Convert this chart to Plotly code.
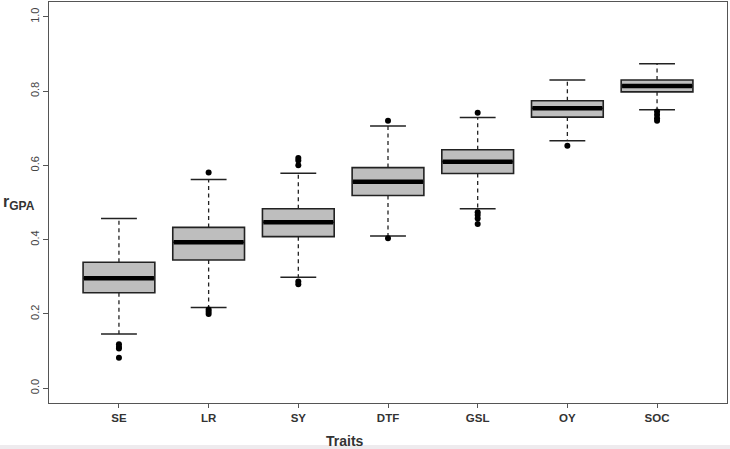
import plotly.graph_objects as go

traits = ["SE", "LR", "SY", "DTF", "GSL", "OY", "SOC"]
lower_whisker = [0.146, 0.217, 0.299, 0.410, 0.483, 0.666, 0.750]
q1 = [0.257, 0.345, 0.408, 0.519, 0.578, 0.730, 0.798]
median = [0.296, 0.393, 0.447, 0.556, 0.610, 0.754, 0.814]
q3 = [0.339, 0.433, 0.483, 0.594, 0.642, 0.774, 0.830]
upper_whisker = [0.457, 0.562, 0.579, 0.706, 0.729, 0.830, 0.874]
outliers_SE = [0.118, 0.111, 0.107, 0.082]
outliers_LR = [0.581, 0.212, 0.206, 0.200]
outliers_SY = [0.620, 0.613, 0.600, 0.287, 0.280]
outliers_DTF = [0.720, 0.404]
outliers_GSL = [0.742, 0.474, 0.466, 0.457, 0.442]
outliers_OY = [0.653]
outliers_SOC = [0.745, 0.736, 0.727, 0.720]
outliers = [outliers_SE, outliers_LR, outliers_SY, outliers_DTF,
            outliers_GSL, outliers_OY, outliers_SOC]
y_ticks = [0.0, 0.2, 0.4, 0.6, 0.8, 1.0]

pos = list(range(1, len(traits) + 1))
BOXW = 0.8
CAPW = 0.4
EDGE = "#222222"

fig = go.Figure()

# whiskers (dashed)
wx, wy = [], []
for p, lo, a, b, hi in zip(pos, lower_whisker, q1, q3, upper_whisker):
    wx += [p, p, None, p, p, None]
    wy += [b, hi, None, a, lo, None]
fig.add_trace(go.Scatter(x=wx, y=wy, mode="lines", hoverinfo="skip",
                         line=dict(color=EDGE, width=1.3, dash="4px,3.5px"),
                         showlegend=False))

# box bodies
fig.add_trace(go.Box(x=pos, q1=q1, median=median, q3=q3,
                     lowerfence=q1, upperfence=q3, width=BOXW,
                     whiskerwidth=0, boxpoints=False, hoverinfo="skip",
                     fillcolor="#BEBEBE", line=dict(color=EDGE, width=1.6),
                     showlegend=False))

# medians (thick)
mx, my = [], []
for p, m in zip(pos, median):
    mx += [p - BOXW / 2 + 0.01, p + BOXW / 2 - 0.01, None]
    my += [m, m, None]
fig.add_trace(go.Scatter(x=mx, y=my, mode="lines", hoverinfo="skip",
                         line=dict(color="black", width=4.5), showlegend=False))

# caps
cx, cy = [], []
for p, lo, hi in zip(pos, lower_whisker, upper_whisker):
    cx += [p - CAPW / 2, p + CAPW / 2, None, p - CAPW / 2, p + CAPW / 2, None]
    cy += [lo, lo, None, hi, hi, None]
fig.add_trace(go.Scatter(x=cx, y=cy, mode="lines", hoverinfo="skip",
                         line=dict(color=EDGE, width=1.5), showlegend=False))

# outliers
ox, oy = [], []
for p, vals in zip(pos, outliers):
    ox += [p] * len(vals)
    oy += vals
fig.add_trace(go.Scatter(x=ox, y=oy, mode="markers",
                         marker=dict(color="black", size=6, symbol="circle"),
                         showlegend=False))

W, H = 730, 449
ML, MR, MT, MB = 49, 3, 2, 46
pw, ph = W - ML - MR, H - MT - MB

fig.update_layout(
    width=W, height=H,
    margin=dict(l=ML, r=MR, t=MT, b=MB, pad=0, autoexpand=False),
    plot_bgcolor="white", paper_bgcolor="white",
    font=dict(family="Liberation Sans, Arial, sans-serif", color="#333333"),
    xaxis=dict(range=[0.22, 7.78], tickmode="array", tickvals=pos,
               ticktext=traits, showgrid=False, zeroline=False,
               automargin=False,
               showline=True, mirror=True, linecolor="#555555", linewidth=1,
               ticks="outside", ticklen=4, tickcolor="#555555",
               tickfont=dict(size=11.5, weight="bold", color="#333333")),
    yaxis=dict(range=[-0.04, 1.04], tickmode="array", tickvals=y_ticks,
               ticktext=[f"{v:.1f}" for v in y_ticks], tickangle=-90,
               showgrid=False, zeroline=False, automargin=False,
               showline=True, mirror=True, linecolor="#555555", linewidth=1,
               ticks="outside", ticklen=5, tickcolor="#555555",
               tickfont=dict(size=11, color="#444444")),
    annotations=[
        dict(text="<b>Traits</b>", xref="paper", yref="paper",
             x=(345 - ML) / pw, y=(H - MB - 441) / ph, xanchor="center",
             yanchor="middle", showarrow=False,
             font=dict(size=14, color="#333333")),
        dict(text="<b>r<sub><span style='font-size:12px'>GPA</span></sub></b>",
             xref="paper", yref="paper",
             x=-(ML - 1) / pw, y=(H - MB - 203) / ph, xanchor="left",
             yanchor="middle", showarrow=False,
             font=dict(size=16, color="#333333")),
    ],
    shapes=[
        dict(type="rect", xref="paper", yref="paper", layer="below",
             x0=-ML / pw, x1=(pw + MR) / pw,
             y0=-MB / ph, y1=-(MB - 4) / ph,
             fillcolor="#EEEBEE", line=dict(width=0)),
    ],
)

fig.write_html("out.html", config={"displayModeBar": False},
               post_script="document.body.style.margin='0px';"
                           "document.body.style.overflow='hidden';")
